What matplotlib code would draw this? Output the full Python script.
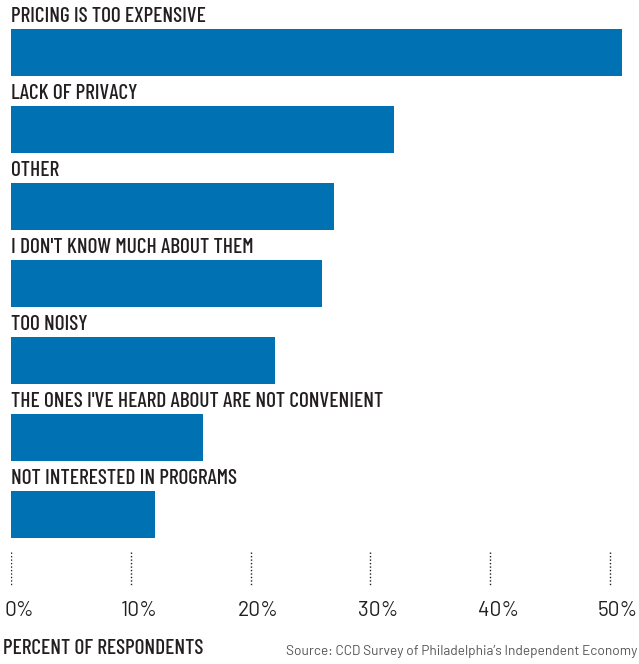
import matplotlib
matplotlib.use("Agg")
import matplotlib.pyplot as plt
import matplotlib.transforms as mtrans

# survey answers, percent of respondents
reasons = ["PRICING IS TOO EXPENSIVE", "LACK OF PRIVACY", "OTHER",
           "I DON'T KNOW MUCH ABOUT THEM", "TOO NOISY",
           "THE ONES I'VE HEARD ABOUT ARE NOT CONVENIENT",
           "NOT INTERESTED IN PROGRAMS"]
pct = [51, 32, 27, 26, 22, 16, 12]
ticks = [0, 10, 20, 30, 40, 50]
tick_labels = ["0%", "10%", "20%", "30%", "40%", "50%"]

blue = "#0071b3"
ink = "#231f20"
cond = ["Barlow Condensed", "DejaVu Sans"]
plain = ["Barlow", "DejaVu Sans"]

W, H = 639, 664
fig = plt.figure(figsize=(W / 100, H / 100), dpi=100)
xmax = 52.42

ax = fig.add_axes([11 / W, 1 - 545 / H, 1 - 11 / W, 545 / H])
ypos = list(range(len(reasons)))
ax.barh(ypos, pct, height=0.61, color=blue)
ax.set_xlim(0, xmax)
ax.set_ylim(6.396, -0.682)
ax.axis("off")

lift = mtrans.offset_copy(ax.transData, fig=fig, x=0, y=3, units="dots")
for y, lab in zip(ypos, reasons):
    ax.text(0, y - 0.305, lab, transform=lift, ha="left", va="bottom",
            fontsize=15.3, family=cond, weight="medium", color=ink)

# tick strip under the bars
tx = fig.add_axes([11 / W, 0, 1 - 11 / W, 1 - 545 / H])
tx.set_xlim(0, xmax)
tx.set_ylim(119, 0)
tx.axis("off")
tx.vlines(ticks, 7, 40, colors=ink, linestyles=(0, (1, 1.5)), linewidth=1)
shift = mtrans.offset_copy(tx.transData, fig=fig, x=8, y=0, units="dots")
for t, lab in zip(ticks, tick_labels):
    tx.text(t, 65, lab, transform=shift, ha="center", va="center",
            fontsize=15, family=plain, color=ink)

fig.text(3 / W, 1 - 649 / H, "PERCENT OF RESPONDENTS", ha="left", va="center",
         fontsize=15.3, family=cond, weight="medium", color=ink)
fig.text(637 / W, 1 - 652 / H,
         "Source: CCD Survey of Philadelphia\u2019s Independent Economy",
         ha="right", va="center", fontsize=9.8, family=plain,
         color="#555555")

fig.savefig("out.png", dpi=100)
